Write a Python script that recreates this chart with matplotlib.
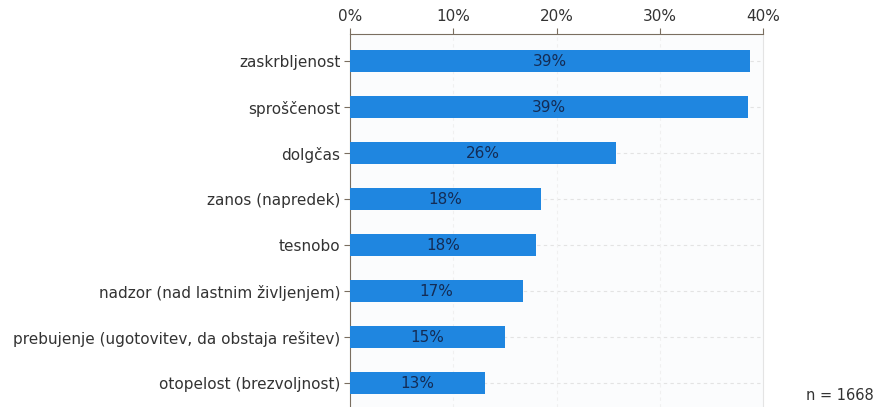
import matplotlib
matplotlib.use('Agg')
import matplotlib.pyplot as plt
import numpy as np

# -----------------------------
# Data
# -----------------------------
categories = [
    "zaskrbljenost",
    "sproščenost",
    "dolgčas",
    "zanos (napredek)",
    "tesnobo",
    "nadzor (nad lastnim življenjem)",
    "prebujenje (ugotovitev, da obstaja rešitev)",
    "otopelost (brezvoljnost)",
]
values = [38.7, 38.5, 25.8, 18.5, 18.0, 16.8, 15.0, 13.1]
labels = ["39%", "39%", "26%", "18%", "18%", "17%", "15%", "13%"]
xticks = [0, 10, 20, 30, 40]
xtick_labels = ["0%", "10%", "20%", "30%", "40%"]
n_text = "n = 1668"

# -----------------------------
# Plot
# -----------------------------
fig = plt.figure(figsize=(8.81, 4.07), dpi=100)
ax = fig.add_axes([350 / 881, 0.0, (763 - 350) / 881, 1 - 34 / 407])
ax.set_facecolor('#fbfcfd')

y = np.arange(len(categories))
bar_color = '#1f86e0'
ax.barh(y, values, height=0.48, color=bar_color, zorder=3)

for yi, v, lab in zip(y, values, labels):
    ax.text(v / 2, yi, lab, ha='center', va='center', fontsize=11,
            color='#142c55', zorder=4)

# faint dashed gridlines
for yi in y:
    ax.axhline(yi, color='#e3e3e3', lw=0.8, ls=(0, (3, 3)), zorder=1)
for xt in xticks[1:-1]:
    ax.axvline(xt, color='#f0f0f0', lw=0.8, ls=(0, (3, 3)), zorder=1)

ax.set_xlim(0, 40)
ax.set_ylim(7.52, -0.587)

ax.xaxis.tick_top()
ax.set_xticks(xticks)
ax.set_xticklabels(xtick_labels, fontsize=11, color='#333333')
ax.set_yticks(y)
ax.set_yticklabels(categories, fontsize=11, color='#333333')
ax.tick_params(axis='both', length=4, width=0.8, color='#7a6e60', pad=3)

spine_col = '#7a6e60'
ax.spines['top'].set_color(spine_col)
ax.spines['left'].set_color(spine_col)
ax.spines['right'].set_color('#e4e4e4')
ax.spines['bottom'].set_visible(False)

fig.text(840 / 881, 1 - 396 / 407, n_text, ha='center', va='center',
         fontsize=10.5, color='#333333')

fig.savefig('out.png', dpi=100)
